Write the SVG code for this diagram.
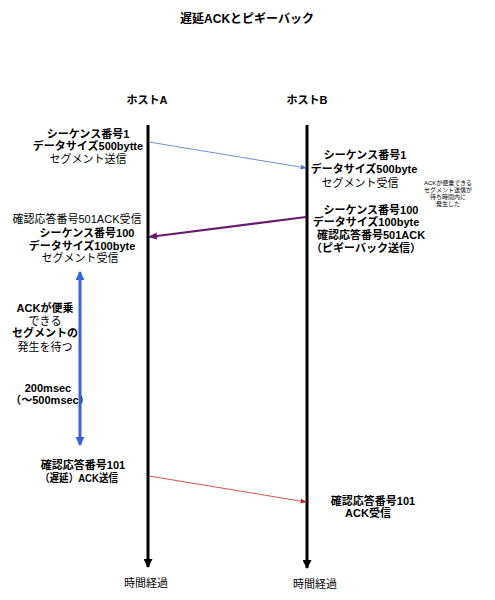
<svg xmlns="http://www.w3.org/2000/svg" width="495" height="600" viewBox="0 0 495 600">
<style>
text{font-family:"Liberation Sans","Noto Sans CJK JP",sans-serif;font-size:11px;fill:#000;text-anchor:middle}
.b{font-weight:bold}
.t{font-size:12px;font-weight:bold}
.n{font-size:6px}
.life{stroke:#000;stroke-width:3;fill:none}
</style>
<defs>
<marker id="mk" viewBox="0 0 10 10" refX="9" refY="5" markerWidth="11" markerHeight="9" orient="auto" markerUnits="userSpaceOnUse"><path d="M0,0 L10,5 L0,10 z" fill="#000"/></marker>
<marker id="mBlueThin" viewBox="0 0 10 10" refX="9" refY="5" markerWidth="6" markerHeight="6" orient="auto" markerUnits="userSpaceOnUse"><path d="M0,1 L10,5 L0,9 z" fill="#4a72d0"/></marker>
<marker id="mRed" viewBox="0 0 10 10" refX="9" refY="5" markerWidth="6" markerHeight="6" orient="auto" markerUnits="userSpaceOnUse"><path d="M0,1 L10,5 L0,9 z" fill="#c02828"/></marker>
<marker id="mPurple" viewBox="0 0 10 10" refX="9" refY="5" markerWidth="9" markerHeight="9" orient="auto" markerUnits="userSpaceOnUse"><path d="M0,1 L10,5 L0,9 z" fill="#6a1a6e"/></marker>
<marker id="mBlue" viewBox="0 0 10 10" refX="9" refY="5" markerWidth="9" markerHeight="9" orient="auto-start-reverse" markerUnits="userSpaceOnUse"><path d="M0,0 L10,5 L0,10 z" fill="#3a62d8"/></marker>
</defs>
<text class="t" x="247" y="23">遅延ACKとピギーバック</text>
<g id="hostA">
<text class="b" x="147" y="104">ホストA</text>
<line class="life" x1="148" y1="125" x2="148" y2="567" marker-end="url(#mk)"/>
<text x="146" y="587">時間経過</text>
</g>
<g id="hostB">
<text class="b" x="307" y="104">ホストB</text>
<line class="life" x1="307" y1="125" x2="307" y2="568" marker-end="url(#mk)"/>
<text x="315" y="588">時間経過</text>
</g>
<g id="sendA1">
<text class="b" x="88" y="138">シーケンス番号1</text>
<text class="b" x="88" y="150">データサイズ500bytte</text>
<text x="88" y="163">セグメント送信</text>
</g>
<g id="recvB1">
<text class="b" x="365" y="159">シーケンス番号1</text>
<text class="b" x="364" y="173">データサイズ500byte</text>
<text x="360" y="187">セグメント受信</text>
</g>
<g id="note">
<text class="n" x="448" y="185">ACKが便乗できる</text>
<text class="n" x="448" y="192">セグメント送信が</text>
<text class="n" x="448" y="199">待ち時間内に</text>
<text class="n" x="448" y="206">発生した</text>
</g>
<g id="sendB2">
<text class="b" x="371" y="214">シーケンス番号100</text>
<text class="b" x="366" y="226">データサイズ100byte</text>
<text class="b" x="371" y="239">確認応答番号501ACK</text>
<text class="b" x="366" y="252">（ピギーバック送信）</text>
</g>
<g id="recvA2">
<text x="77" y="223">確認応答番号501ACK受信</text>
<text class="b" x="87" y="237">シーケンス番号100</text>
<text class="b" x="82" y="250">データサイズ100byte</text>
<text x="80" y="262">セグメント受信</text>
</g>
<g id="wait">
<text class="b" x="45" y="312">ACKが便乗</text>
<text x="45" y="325">できる</text>
<text class="b" x="45" y="337">セグメントの</text>
<text x="45" y="351">発生を待つ</text>
<text class="b" x="48" y="392">200msec</text>
<text class="b" x="50" y="404">（～500msec）</text>
</g>
<g id="sendA3">
<text class="b" x="83" y="469">確認応答番号101</text>
<text class="b" x="79" y="482" textLength="78" lengthAdjust="spacingAndGlyphs">（遅延）ACK送信</text>
</g>
<g id="recvB3">
<text class="b" x="373" y="505">確認応答番号101</text>
<text class="b" x="368" y="517">ACK受信</text>
</g>
<g id="connectors">
<line x1="149" y1="142" x2="306" y2="168" stroke="#4a72d0" stroke-width="0.8" marker-end="url(#mBlueThin)"/>
<line x1="306" y1="217" x2="149" y2="237" stroke="#6a1a6e" stroke-width="2" marker-end="url(#mPurple)"/>
<line x1="80" y1="272" x2="80" y2="445" stroke="#3a62d8" stroke-width="3" marker-start="url(#mBlue)" marker-end="url(#mBlue)"/>
<line x1="149" y1="476" x2="306" y2="502" stroke="#c02828" stroke-width="0.8" marker-end="url(#mRed)"/>
</g>
</svg>
